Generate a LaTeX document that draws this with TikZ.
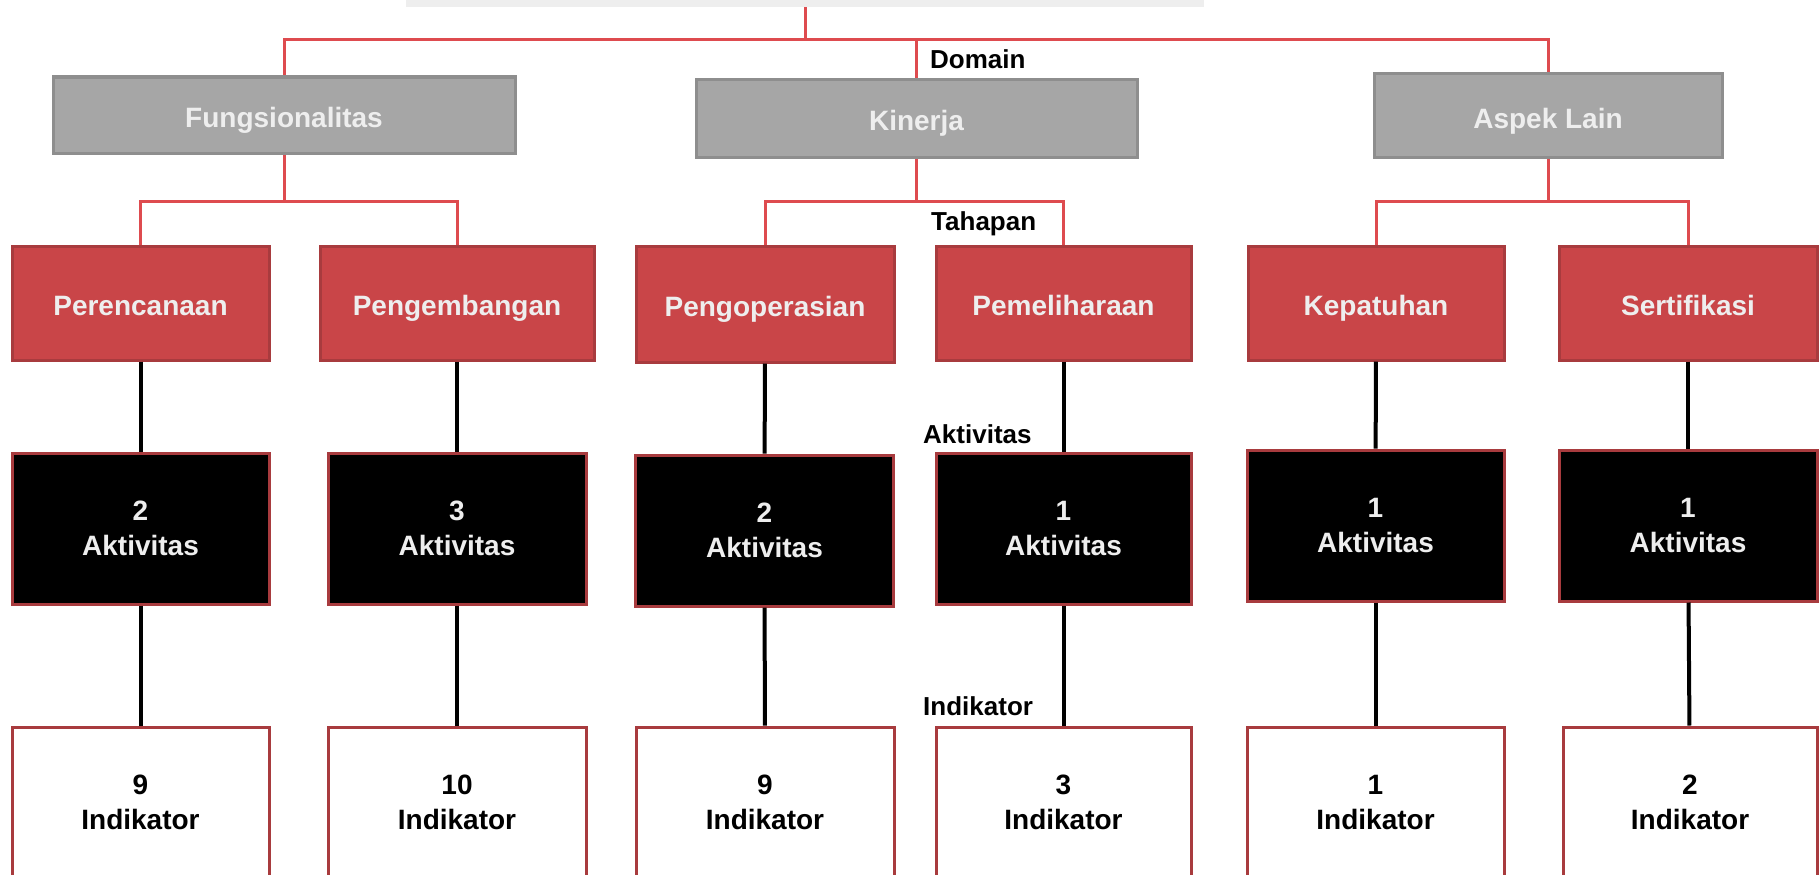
\documentclass[tikz,border=0pt]{standalone}
\usepackage{fontspec}
\setmainfont{Liberation Sans}
\usepackage{tikz}

\definecolor{greyfill}{HTML}{A6A6A6}
\definecolor{greyline}{HTML}{8E8E8E}
\definecolor{redfill}{HTML}{C94548}
\definecolor{redline}{HTML}{A83B3E}
\definecolor{treeline}{HTML}{DE4B4F}
\definecolor{lighttext}{HTML}{EEEEEE}
\definecolor{topbar}{HTML}{EEEEEE}

\tikzset{
	boxfont/.style={font=\fontsize{28}{35}\selectfont\bfseries, align=center},
	onerow/.style={text height=27pt, text depth=2pt},
	domainbox/.style={boxfont, onerow, draw=greyline, fill=greyfill, line width=3pt, text=lighttext},
	stagebox/.style={boxfont, onerow, draw=redline, fill=redfill, line width=3pt, text=lighttext, minimum height=114pt},
	actbox/.style={boxfont, draw=redline, fill=black, line width=3pt, text=lighttext, minimum height=151pt},
	indbox/.style={boxfont, draw=redline, fill=white, line width=3pt, text=black, minimum height=150pt},
	levellabel/.style={font=\fontsize{26}{30}\selectfont\bfseries, anchor=west, inner sep=0pt},
	redconn/.style={draw=treeline, line width=3pt},
	blkconn/.style={draw=black, line width=4pt},
}

\begin{document}
\begin{tikzpicture}[x=1pt, y=-1pt]
	\useasboundingbox (0,0) rectangle (1820,875);
	\fill[white] (0,0) rectangle (1820,875);
	\clip (0,0) rectangle (1820,875);

	\node[fill=topbar, minimum width=798pt, minimum height=17pt, inner sep=0pt] (root) at (805,-1.5) {};

	% domain
	\node[domainbox, minimum width=462pt, minimum height=76pt] (d1) at (284,115) {Fungsionalitas};
	\node[domainbox, minimum width=441pt, minimum height=78pt] (d2) at (916.5,118) {Kinerja};
	\node[domainbox, minimum width=348pt, minimum height=83pt] (d3) at (1548,115.5) {Aspek Lain};

	% tahapan
	\node[stagebox, minimum width=257pt] (t1) at (140.5,303) {Perencanaan};
	\node[stagebox, minimum width=274pt] (t2) at (457,303) {Pengembangan};
	\node[stagebox, minimum width=258pt, minimum height=116pt] (t3) at (765,304) {Pengoperasian};
	\node[stagebox, minimum width=255pt] (t4) at (1063.5,303) {Pemeliharaan};
	\node[stagebox, minimum width=256pt] (t5) at (1376,303) {Kepatuhan};
	\node[stagebox, minimum width=258pt] (t6) at (1688,303) {Sertifikasi};

	% aktivitas
	\node[actbox, minimum width=257pt] (a1) at (140.5,528.5) {2\\Aktivitas};
	\node[actbox, minimum width=258pt] (a2) at (457,528.5) {3\\Aktivitas};
	\node[actbox, minimum width=258pt] (a3) at (764.5,530.5) {2\\Aktivitas};
	\node[actbox, minimum width=255pt] (a4) at (1063.5,528.5) {1\\Aktivitas};
	\node[actbox, minimum width=257pt] (a5) at (1375.5,525.5) {1\\Aktivitas};
	\node[actbox, minimum width=258pt] (a6) at (1688,525.5) {1\\Aktivitas};

	% indikator
	\node[indbox, minimum width=257pt] (i1) at (140.5,802) {9\\Indikator};
	\node[indbox, minimum width=258pt] (i2) at (457,802) {10\\Indikator};
	\node[indbox, minimum width=258pt] (i3) at (765,802) {9\\Indikator};
	\node[indbox, minimum width=255pt] (i4) at (1063.5,802) {3\\Indikator};
	\node[indbox, minimum width=257pt] (i5) at (1375.5,802) {1\\Indikator};
	\node[indbox, minimum width=254pt] (i6) at (1690,802) {2\\Indikator};

	% labels
	\node[levellabel] (ldom) at (930,59) {Domain};
	\node[levellabel] (ltah) at (931,224) {Tahapan};
	\node[levellabel] (lakt) at (923,434) {Aktivitas};
	\node[levellabel] (lind) at (923,706) {Indikator};

	% tree joints
	\coordinate (j0) at (805,40);
	\coordinate (j1) at (284,201);
	\coordinate (j2) at (916.5,201);
	\coordinate (j3) at (1548,201);

	\draw[redconn] (root.south) -- (j0);
	\draw[redconn] (j0) -| (d1.north);
	\draw[redconn] (j0) -| (d2.north);
	\draw[redconn] (j0) -| (d3.north);

	\draw[redconn] (d1.south) -- (j1);
	\draw[redconn] (j1) -| (t1.north);
	\draw[redconn] (j1) -| (t2.north);
	\draw[redconn] (d2.south) -- (j2);
	\draw[redconn] (j2) -| (t3.north);
	\draw[redconn] (j2) -| (t4.north);
	\draw[redconn] (d3.south) -- (j3);
	\draw[redconn] (j3) -| (t5.north);
	\draw[redconn] (j3) -| (t6.north);

	\path [blkconn] (t1) edge (a1);
	\path [blkconn] (t2) edge (a2);
	\path [blkconn] (t3) edge (a3);
	\path [blkconn] (t4) edge (a4);
	\path [blkconn] (t5) edge (a5);
	\path [blkconn] (t6) edge (a6);

	\path [blkconn] (a1) edge (i1);
	\path [blkconn] (a2) edge (i2);
	\path [blkconn] (a3) edge (i3);
	\path [blkconn] (a4) edge (i4);
	\path [blkconn] (a5) edge (i5);
	\path [blkconn] (a6) edge (i6);
\end{tikzpicture}
\end{document}
